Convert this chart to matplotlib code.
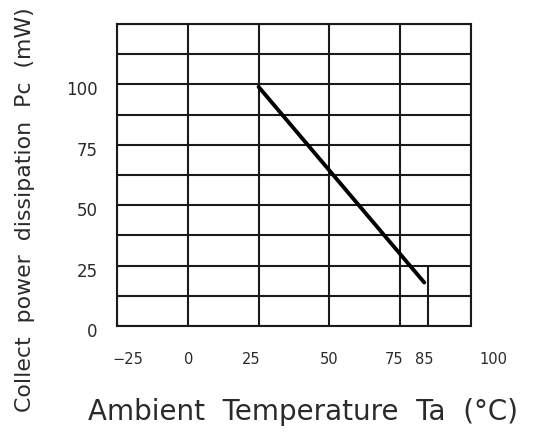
import numpy as np
import matplotlib
matplotlib.use("Agg")
import matplotlib.pyplot as plt
from matplotlib.ticker import MultipleLocator
from matplotlib.transforms import ScaledTranslation

# data
temp = [25, 83.5]          # Ta (°C)
power = [99, 18]           # Pc (mW)

x_grid = [-25, 0, 25, 50, 75, 100]
x_ticks = [-25, 0, 25, 50, 75, 85, 100]
x_tick_labels = ["\u221225", "0", "25", "50", "75", "85", "100"]
y_ticks = [0, 25, 50, 75, 100]
y_tick_labels = ["0", "25", "50", "75", "100"]
derate_x, derate_top = 85, 25   # short vertical mark at 85 °C

txt = "#2a2a2a"
line_c = "#1a1a1a"

fig = plt.figure(figsize=(5.5, 4.33), dpi=100)
ax = fig.add_axes([0.2127, 0.2471, 0.6436, 0.6975])
ax.set_xlim(-25, 100)
ax.set_ylim(0, 125)

# grid
ax.yaxis.set_minor_locator(MultipleLocator(12.5))
ax.grid(axis="y", which="both", color=line_c, linewidth=1.5)
ax.vlines(x_grid, 0, 125, color=line_c, linewidth=1.5)
ax.vlines(derate_x, 0, derate_top, color=line_c, linewidth=1.5)
for s in ax.spines.values():
    s.set_color(line_c)
    s.set_linewidth(1.5)

# curve
ax.plot(temp, power, color="black", linewidth=2.8, solid_capstyle="round")

ax.set_xticks(x_ticks)
ax.set_xticklabels(x_tick_labels)
ax.set_yticks(y_ticks)
ax.set_yticklabels(y_tick_labels)
ax.tick_params(axis="both", which="both", length=0, colors=txt)
ax.tick_params(axis="x", labelsize=10.5, pad=19)
ax.tick_params(axis="y", labelsize=12, pad=14)

# nudge x labels to where they sit in the original (pixels)
x_shift = [11, 1, -7, 0, -6, -4, 22]
for lab, dx in zip(ax.get_xticklabels(), x_shift):
    lab.set_transform(lab.get_transform() + ScaledTranslation(dx / 100, 0, fig.dpi_scale_trans))
for lab in ax.get_yticklabels():
    lab.set_transform(lab.get_transform() + ScaledTranslation(0, -4 / 100, fig.dpi_scale_trans))

fig.text(0.55, 0.048, "Ambient  Temperature  Ta  (\u00b0C)", ha="center", va="center",
         fontsize=20, color=txt)
fig.text(0.046, 0.515, "Collect  power  dissipation  Pc  (mW)", ha="center", va="center",
         rotation=90, fontsize=15.8, color=txt)

fig.savefig("out.png", dpi=100)
